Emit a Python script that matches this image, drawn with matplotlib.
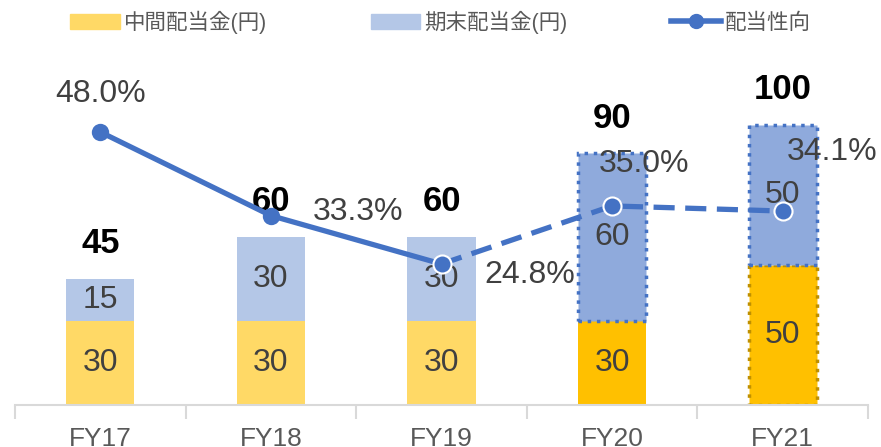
import numpy as np
import matplotlib
matplotlib.use("Agg")
import matplotlib.pyplot as plt
from matplotlib.lines import Line2D
from matplotlib.patches import Patch

plt.rcParams['font.family'] = ['Liberation Sans', 'Noto Sans CJK JP', 'DejaVu Sans']

years = ["FY17", "FY18", "FY19", "FY20", "FY21"]
interim = [30, 30, 30, 30, 50]
year_end = [15, 30, 30, 60, 50]
totals = [45, 60, 60, 90, 100]
payout = [48.0, 33.3, 24.8, 35.0, 34.1]

x = np.arange(len(years))

fig = plt.figure(figsize=(8.81, 4.47), dpi=100)
ax = fig.add_axes([15/881, 42/447, 853/881, 364/447])
ax2 = ax.twinx()

int_colors = ['#FFD966', '#FFD966', '#FFD966', '#FFC000', '#FFC000']
end_colors = ['#B4C7E7', '#B4C7E7', '#B4C7E7', '#8FAADC', '#8FAADC']
w = 0.4
for i in range(len(years)):
    if i == 4:
        ax.bar(x[i], interim[i], w, color=int_colors[i], edgecolor='#BF9000',
               linestyle=':', linewidth=2.5)
    else:
        ax.bar(x[i], interim[i], w, color=int_colors[i], linewidth=0)
    if i >= 3:
        ax.bar(x[i], year_end[i], w, bottom=interim[i], color=end_colors[i],
               edgecolor='#4472C4', linestyle=':', linewidth=2.5)
    else:
        ax.bar(x[i], year_end[i], w, bottom=interim[i], color=end_colors[i], linewidth=0)
    ax.text(x[i], interim[i] / 2, str(interim[i]), ha='center', va='center',
            fontsize=23, color='#404040')
    ax.text(x[i], interim[i] + year_end[i] / 2, str(year_end[i]), ha='center', va='center',
            fontsize=23, color='#404040')
    ax.text(x[i], totals[i] + 12.5, str(totals[i]), ha='center', va='center',
            fontsize=25, fontweight='bold', color='black')

ax.set_xlim(-0.5, 4.5)
ax.set_ylim(0, 130)
ax2.set_ylim(0, 64)

blue = '#4472C4'
ax2.plot(x[:3], payout[:3], color=blue, linewidth=3.8, solid_capstyle='round')
ax2.plot(x[2:], payout[2:], color=blue, linewidth=3.8, linestyle=(0, (4, 2)))
ax2.plot(x[:2], payout[:2], 'o', color=blue, markersize=12.5, markeredgewidth=0)
ax2.plot(x[2:], payout[2:], 'o', color=blue, markersize=13, markeredgecolor='white',
         markeredgewidth=1.5)

pct_offsets = [(0, 6.7), (0.51, 0.6), (0.52, -2), (0.19, 7.4), (0.29, 10.4)]
for i, (dx, dy) in enumerate(pct_offsets):
    ax2.text(x[i] + dx, payout[i] + dy, f"{payout[i]:.1f}%", ha='center', va='center',
             fontsize=23, color='#404040')

for a in (ax, ax2):
    for s in ['top', 'right', 'left']:
        a.spines[s].set_visible(False)
    a.set_yticks([])
ax2.spines['bottom'].set_visible(False)
ax.spines['bottom'].set_color('#D9D9D9')
ax.spines['bottom'].set_linewidth(1.5)

ax.set_xticks(x)
ax.set_xticklabels(years, fontsize=19, color='#595959')
ax.tick_params(axis='x', length=0, pad=16)
ax.set_xticks(np.arange(-0.5, 5.0, 1.0), minor=True)
ax.tick_params(axis='x', which='minor', length=10, color='#D9D9D9', width=1.5)

handles = [Patch(color='#FFD966'), Patch(color='#B4C7E7'),
           Line2D([0], [0], color=blue, linewidth=4, marker='o', markersize=10)]
labels = ['中間配当金(円)', '期末配当金(円)', '配当性向']
fig.legend(handles, labels, loc='center', bbox_to_anchor=(0.5, 1 - 22/447), ncol=3,
           frameon=False, fontsize=15.5, labelcolor='#595959', handlelength=2.3,
           columnspacing=4.8, handletextpad=0.2, borderaxespad=0)

fig.savefig("out.png", dpi=100)
